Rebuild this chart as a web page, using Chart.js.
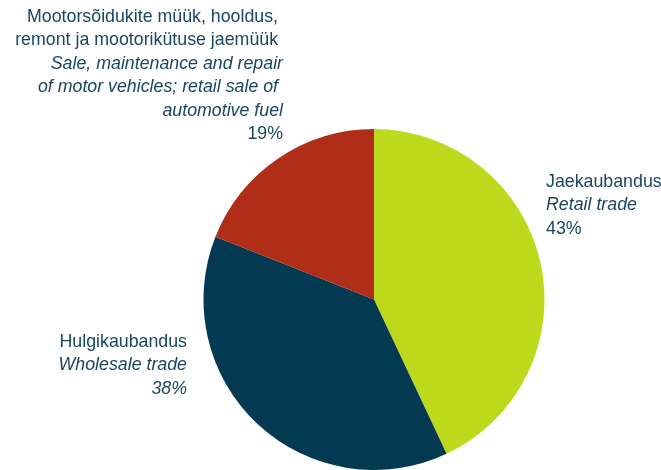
<!DOCTYPE html>
<html>
<head>
<meta charset="utf-8">
<script src="https://cdn.jsdelivr.net/npm/chart.js@4"></script>
<style>
  html, body { margin: 0; padding: 0; background: #fff; overflow: hidden; }
  #wrap { width: 661px; height: 470px; position: relative; }
</style>
</head>
<body>
<div id="wrap"><canvas id="pie"></canvas></div>
<script>
// categories (Estonian / English) and shares, clockwise from 12 o'clock
const categoriesEt = ["Jaekaubandus", "Hulgikaubandus", "Mootorsõidukite müük, hooldus, remont ja mootorikütuse jaemüük"];
const categoriesEn = ["Retail trade", "Wholesale trade", "Sale, maintenance and repair of motor vehicles; retail sale of automotive fuel"];
const shares = [43, 38, 19];
const sliceColors = ["#bdd91c", "#033a52", "#b02e17"];

const textColor = "#18475f";
const font = "17.8px 'Liberation Sans', Arial, sans-serif";
const italicFont = "italic 17.8px 'Liberation Sans', Arial, sans-serif";

// label blocks: lines drawn next to each slice
const labelBlocks = [
  { x: 546, y: 187, align: "left", lines: [
    [categoriesEt[0], font], [categoriesEn[0], italicFont], [shares[0] + "%", font]] },
  { x: 187, y: 347, align: "right", lines: [
    [categoriesEt[1], font], [categoriesEn[1], italicFont], [shares[1] + "%", italicFont]] },
  { x: 283, y: 22, align: "right", lines: [
    ["Mootorsõidukite müük, hooldus, ", font],
    ["remont ja mootorikütuse jaemüük ", font],
    ["Sale, maintenance and repair", italicFont],
    ["of motor vehicles; retail sale of ", italicFont],
    ["automotive fuel", italicFont],
    [shares[2] + "%", font]] }
];

const sliceLabels = {
  id: "sliceLabels",
  afterDraw(chart) {
    const c = chart.ctx;
    c.save();
    c.fillStyle = textColor;
    c.textBaseline = "alphabetic";
    labelBlocks.forEach(block => {
      c.textAlign = block.align;
      block.lines.forEach(([text, f], i) => {
        c.font = f;
        c.fillText(text, block.x, block.y + i * 23.4);
      });
    });
    c.restore();
  }
};

new Chart(document.getElementById("pie"), {
  type: "pie",
  data: {
    labels: categoriesEt,
    datasets: [{
      data: shares,
      backgroundColor: sliceColors,
      borderWidth: 0,
      hoverOffset: 0
    }]
  },
  options: {
    responsive: true,
    maintainAspectRatio: false,
    animation: false,
    layout: { padding: { left: 203, right: 116, top: 129, bottom: 0 } },
    plugins: {
      legend: { display: false },
      tooltip: { enabled: false }
    }
  },
  plugins: [sliceLabels]
});
</script>
</body>
</html>
